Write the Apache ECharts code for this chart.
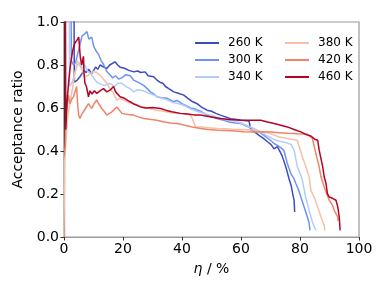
<!DOCTYPE html>
<html><head><meta charset="utf-8">
<script src="https://cdn.jsdelivr.net/npm/echarts@6/dist/echarts.min.js"></script>
<style>html,body{margin:0;padding:0;background:#fff}#c{width:390px;height:293px}</style>
</head><body><div id="c"></div>
<script>
var names = ['260 K','300 K','340 K','380 K','420 K','460 K'];
var colors = ['#3b4cc0','#7093f3','#b3cdfb','#f5c0a6','#ee8468','#b40426'];
var xTicks = [0,20,40,60,80,100];
var yTicks = [0,0.2,0.4,0.6,0.8,1.0];

var T260 = [[3.4,1.05],[3.5,0.72],[4.5,0.73],[5.4,0.745],[6.1,0.76],[6.7,0.776],[7.5,0.765],[8.4,0.78],[9.4,0.76],[10.7,0.79],[11.5,0.78],[12.2,0.80],[13.5,0.79],[14.5,0.784],[15.5,0.80],[17.3,0.815],[18.2,0.80],[19,0.79],[20.5,0.785],[22,0.775],[23.6,0.768],[25,0.772],[26,0.765],[27.5,0.768],[28.5,0.75],[30.4,0.745],[31.5,0.73],[32.5,0.72],[33.5,0.715],[34.4,0.70],[35.5,0.69],[37.2,0.675],[38.5,0.67],[40.6,0.66],[42,0.645],[43.5,0.63],[45.1,0.62],[46.5,0.605],[48.5,0.59],[50,0.585],[51.5,0.575],[53,0.567],[54.5,0.56],[56.5,0.55],[58,0.548],[60,0.543],[62.7,0.54],[63.3,0.50],[64.5,0.49],[66,0.474],[67.5,0.46],[69,0.443],[70.2,0.43],[71.2,0.41],[72.3,0.42],[73.5,0.39],[74,0.375],[75.2,0.326],[76.3,0.27],[77,0.24],[77.4,0.21],[78,0.17],[78.2,0.116]];
var T300 = [[2.4,1.05],[2.5,0.82],[3.2,0.80],[3.9,0.81],[4.8,0.86],[5.5,0.90],[6.1,0.935],[7,0.945],[7.8,0.955],[8.4,0.92],[9.4,0.93],[10.1,0.885],[11.1,0.86],[11.7,0.85],[12.6,0.82],[13.5,0.80],[14.5,0.77],[15.6,0.755],[16.5,0.74],[17.5,0.75],[18.5,0.735],[19.6,0.74],[21,0.755],[22.4,0.75],[23.6,0.73],[25,0.72],[27,0.705],[28.2,0.69],[29.3,0.675],[30.5,0.665],[31.5,0.652],[33,0.648],[35,0.645],[37.2,0.63],[38.3,0.635],[40,0.62],[42.9,0.60],[44.5,0.595],[46.3,0.585],[48.5,0.567],[50,0.56],[52,0.55],[54.2,0.543],[56,0.535],[58,0.53],[60,0.528],[62,0.515],[64,0.505],[66,0.49],[68,0.47],[70,0.45],[71.2,0.435],[72.5,0.425],[74,0.41],[74.6,0.40],[75.7,0.342],[76.9,0.295],[78,0.27],[78.6,0.249],[79.5,0.22],[80.3,0.186],[81.4,0.14],[82.5,0.093],[83,0.07],[83.4,0.031]];
var T340 = [[1.8,1.05],[1.9,0.70],[2.8,0.72],[3.6,0.76],[4.5,0.80],[5.4,0.81],[6.2,0.78],[7.1,0.80],[8,0.77],[9,0.76],[10,0.74],[11.2,0.72],[12.5,0.71],[13.8,0.705],[15.6,0.715],[17,0.70],[18.2,0.715],[19.6,0.715],[21,0.70],[22.4,0.69],[23.6,0.675],[25,0.685],[27,0.68],[28.5,0.67],[30.5,0.66],[32.5,0.648],[34.5,0.64],[37,0.625],[39,0.62],[41,0.61],[43,0.595],[45,0.585],[47.5,0.575],[50,0.565],[52.5,0.555],[55,0.545],[57.5,0.54],[60,0.53],[62.5,0.515],[65,0.50],[67,0.485],[69,0.47],[71,0.455],[73,0.445],[75,0.44],[77,0.43],[78,0.404],[79.1,0.326],[80.2,0.29],[80.8,0.264],[81.9,0.186],[83.1,0.124],[84.2,0.07],[85.4,0.031]];
var T380 = [[0,0],[0.2,0.35],[0.7,0.45],[1.2,0.55],[2,0.62],[3,0.70],[3.7,0.76],[4.5,0.82],[5.2,0.80],[6,0.78],[7.1,0.745],[8,0.75],[9,0.76],[10,0.77],[11,0.765],[12.2,0.753],[13.3,0.735],[14.5,0.715],[15.6,0.69],[16.8,0.668],[17.9,0.637],[19,0.645],[20.5,0.635],[22,0.625],[23.6,0.62],[25,0.612],[27,0.60],[29,0.598],[31.5,0.59],[34,0.585],[36,0.578],[38.3,0.575],[40.5,0.572],[42.9,0.567],[43.5,0.55],[44.6,0.512],[46.5,0.512],[49,0.508],[52,0.505],[55,0.503],[58,0.50],[61,0.50],[64,0.498],[67,0.49],[69,0.485],[71.2,0.474],[73,0.465],[75,0.46],[77,0.455],[79.1,0.45],[80.8,0.373],[82,0.326],[83.1,0.28],[83.7,0.217],[84.8,0.186],[86,0.14],[87.1,0.093],[88.2,0.054],[88.4,0.03]];
var T420 = [[0.2,0.39],[0.4,0.42],[0.6,0.55],[1,0.60],[1.5,0.66],[2,0.62],[2.6,0.64],[3.2,0.652],[3.7,0.65],[4.3,0.70],[4.6,0.62],[5,0.565],[5.4,0.551],[6,0.57],[6.6,0.575],[7.4,0.60],[8.3,0.62],[9.4,0.598],[10.2,0.62],[11.1,0.637],[12,0.615],[12.8,0.598],[13.6,0.585],[14.5,0.567],[16.2,0.582],[17.9,0.605],[18.8,0.59],[19.6,0.575],[21.5,0.57],[23.6,0.567],[25,0.56],[27,0.551],[29,0.548],[31.5,0.543],[34,0.535],[36,0.53],[38.3,0.528],[41,0.52],[43.5,0.512],[46.3,0.505],[49,0.50],[52,0.497],[55,0.495],[58,0.493],[61,0.49],[64,0.488],[67,0.49],[70,0.488],[73,0.485],[76,0.482],[79,0.48],[82.5,0.478],[84.2,0.458],[85.4,0.388],[86.5,0.326],[87.1,0.28],[88.2,0.233],[89.9,0.171],[91,0.148],[91.6,0.124],[92.8,0.093],[92.9,0.075]];
var T460 = [[0.5,1.05],[0.6,0.5],[1,0.62],[1.5,0.71],[2,0.78],[2.5,0.83],[3,0.87],[3.6,0.90],[4.4,0.916],[5,0.93],[5.4,0.93],[5.5,0.84],[6,0.80],[6.6,0.84],[6.8,0.76],[7.1,0.715],[7.6,0.70],[8.3,0.652],[8.8,0.68],[9.5,0.665],[10.3,0.68],[11.1,0.668],[12.2,0.68],[13.4,0.69],[14.5,0.675],[15.6,0.683],[16.8,0.70],[17.5,0.675],[19,0.652],[20.5,0.645],[22.4,0.629],[23.5,0.62],[24.7,0.613],[26,0.605],[28,0.60],[30,0.602],[32.7,0.598],[34.5,0.59],[36.5,0.583],[39.5,0.575],[42,0.572],[44,0.568],[46.3,0.567],[48.5,0.562],[51,0.556],[53,0.551],[56,0.547],[60,0.543],[63,0.543],[66.7,0.543],[69,0.535],[71.2,0.528],[73.5,0.52],[75.7,0.512],[78,0.50],[80.3,0.489],[82.5,0.474],[83.7,0.47],[85,0.455],[86,0.45],[86.5,0.404],[87.7,0.326],[88.2,0.28],[88.8,0.25],[89.3,0.202],[89.9,0.186],[91,0.18],[92.2,0.171],[92.8,0.14],[93.3,0.093],[93.6,0.031]];

var allData = [T260,T300,T340,T380,T420,T460];
var FONT = 'DejaVu Sans';
var chart = echarts.init(document.getElementById('c'), null, {renderer:'canvas'});
var series = names.map(function(n,i){
  return {name:n, type:'line', data:allData[i], symbol:'none', clip:true,
    lineStyle:{color:colors[i], width:1.5}, itemStyle:{color:colors[i]}, animation:false};
});
chart.setOption({
  animation:false,
  grid:{left:64,right:31,top:22,bottom:56,show:true,borderColor:'#999',borderWidth:1.2,backgroundColor:'transparent'},
  legend:[
    {data:names.slice(0,3), left:190, top:31, orient:'vertical', icon:'rect', itemWidth:24, itemHeight:2, itemGap:3,
     textStyle:{fontFamily:FONT,fontSize:12,color:'#000',lineHeight:14,padding:[0,0,0,4]}},
    {data:names.slice(3,6), left:280, top:31, orient:'vertical', icon:'rect', itemWidth:24, itemHeight:2, itemGap:3,
     textStyle:{fontFamily:FONT,fontSize:12,color:'#000',lineHeight:14,padding:[0,0,0,4]}}
  ],
  xAxis:{type:'value', min:0, max:100, interval:20,
    name:'{i|η} / %', nameLocation:'middle', nameGap:25,
    nameTextStyle:{fontFamily:FONT,fontSize:14,color:'#000',rich:{i:{fontStyle:'italic',fontFamily:FONT,fontSize:14,color:'#000'}}},
    axisLine:{show:true,lineStyle:{color:'#999',width:1.2}},
    axisTick:{show:true,inside:false,length:3.5,lineStyle:{color:'#333',width:1}},
    axisLabel:{fontFamily:FONT,fontSize:14,color:'#000',margin:5,
      formatter:function(v){return xTicks.indexOf(v)>=0?String(v):'';}},
    splitLine:{show:false}},
  yAxis:{type:'value', min:0, max:1, interval:0.2,
    name:'Acceptance ratio', nameLocation:'middle', nameGap:36,
    nameTextStyle:{fontFamily:FONT,fontSize:14,color:'#000'},
    axisLine:{show:true,lineStyle:{color:'#333',width:1.2}},
    axisTick:{show:true,inside:false,length:3.5,lineStyle:{color:'#333',width:1}},
    axisLabel:{fontFamily:FONT,fontSize:14,color:'#000',margin:5,
      formatter:function(v){return v.toFixed(1);}},
    splitLine:{show:false}},
  series:series
});
</script></body></html>
